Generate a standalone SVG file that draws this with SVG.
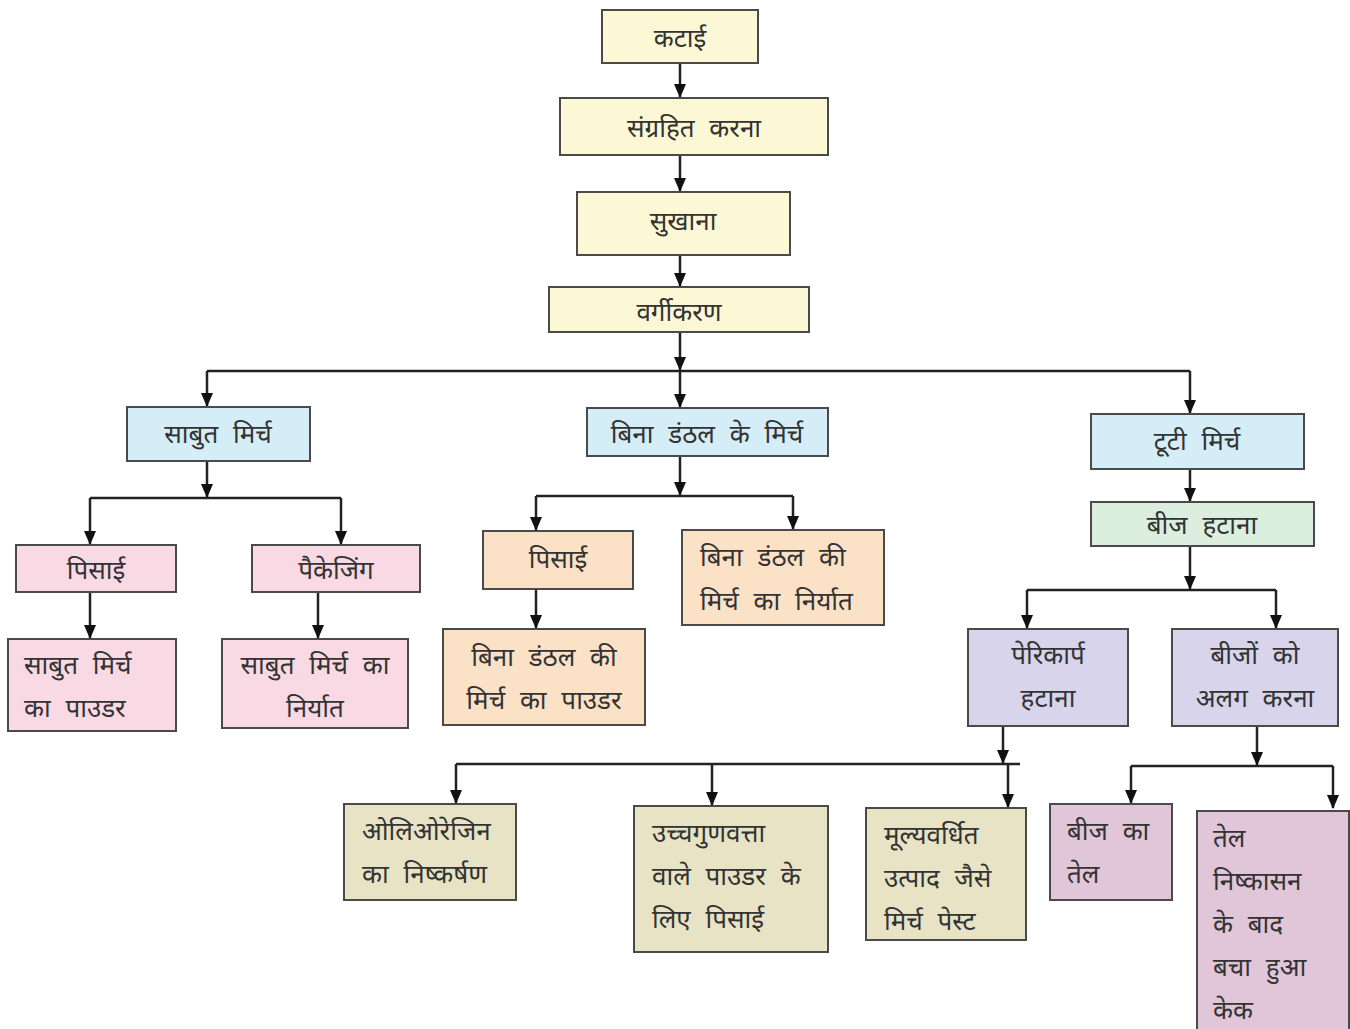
<svg xmlns="http://www.w3.org/2000/svg" width="1350" height="1029" viewBox="0 0 1350 1029">
<style>
.b{stroke:#4a4a4a;stroke-width:2}
.y{fill:#fcf8d6}.bl{fill:#d5edf7}.pk{fill:#f9d9e3}.pe{fill:#fbe1c6}.g{fill:#dcefdf}.lv{fill:#d8d4eb}.tn{fill:#e8e3c5}.mv{fill:#e1c5d9}
text{font-family:"Noto Sans","Lato","DejaVu Sans",sans-serif;font-size:26px;fill:#333;word-spacing:8px}
.c{text-anchor:middle}
.ln{fill:none;stroke:#222;stroke-width:2.5}
</style>
<defs>
<marker id="d" markerWidth="14" markerHeight="14" refX="13" refY="7" orient="auto" markerUnits="userSpaceOnUse" viewBox="0 0 14 14">
<path d="M0,1 L14,7 L0,13 Z" fill="#111"/>
</marker>
</defs>
<rect width="1350" height="1029" fill="#fff"/>
<g id="connectors" class="ln">
<path d="M680,63 V97" marker-end="url(#d)"/>
<path d="M680,155 V191" marker-end="url(#d)"/>
<path d="M680,255 V286" marker-end="url(#d)"/>
<path d="M680,332 V370" marker-end="url(#d)"/>
<path d="M207,371 H1190"/>
<path d="M207,371 V406" marker-end="url(#d)"/>
<path d="M680,371 V407" marker-end="url(#d)"/>
<path d="M1190,371 V413" marker-end="url(#d)"/>
<path d="M207,461 V497" marker-end="url(#d)"/>
<path d="M90,498 H341"/>
<path d="M90,498 V544" marker-end="url(#d)"/>
<path d="M341,498 V544" marker-end="url(#d)"/>
<path d="M90,592 V638" marker-end="url(#d)"/>
<path d="M318,592 V638" marker-end="url(#d)"/>
<path d="M680,456 V495" marker-end="url(#d)"/>
<path d="M536,496 H793"/>
<path d="M536,496 V530" marker-end="url(#d)"/>
<path d="M793,496 V529" marker-end="url(#d)"/>
<path d="M536,589 V628" marker-end="url(#d)"/>
<path d="M1190,469 V501" marker-end="url(#d)"/>
<path d="M1190,546 V589" marker-end="url(#d)"/>
<path d="M1027,590 H1276"/>
<path d="M1027,590 V628" marker-end="url(#d)"/>
<path d="M1276,590 V628" marker-end="url(#d)"/>
<path d="M1003,726 V763" marker-end="url(#d)"/>
<path d="M456,764 H1020"/>
<path d="M456,764 V803" marker-end="url(#d)"/>
<path d="M712,764 V805" marker-end="url(#d)"/>
<path d="M1008,764 V807" marker-end="url(#d)"/>
<path d="M1257,726 V765" marker-end="url(#d)"/>
<path d="M1131,766 H1333"/>
<path d="M1131,766 V803" marker-end="url(#d)"/>
<path d="M1333,766 V808" marker-end="url(#d)"/>
</g>
<g id="n1"><rect class="b y" x="602" y="10" width="156" height="53"/><text class="c" x="680" y="47">कटाई</text></g>
<g id="n2"><rect class="b y" x="560" y="98" width="268" height="57"/><text class="c" x="694" y="137">संग्रहित करना</text></g>
<g id="n3"><rect class="b y" x="577" y="192" width="213" height="63"/><text class="c" x="683" y="230">सुखाना</text></g>
<g id="n4"><rect class="b y" x="549" y="287" width="260" height="45"/><text class="c" x="679" y="321">वर्गीकरण</text></g>
<g id="n5"><rect class="b bl" x="127" y="407" width="183" height="54"/><text class="c" x="218" y="443">साबुत मिर्च</text></g>
<g id="n6"><rect class="b bl" x="587" y="408" width="241" height="48"/><text class="c" x="707" y="443">बिना डंठल के मिर्च</text></g>
<g id="n7"><rect class="b bl" x="1091" y="414" width="213" height="55"/><text class="c" x="1197" y="450">टूटी मिर्च</text></g>
<g id="n8"><rect class="b pk" x="16" y="545" width="160" height="47"/><text class="c" x="96" y="579">पिसाई</text></g>
<g id="n9"><rect class="b pk" x="252" y="545" width="168" height="47"/><text class="c" x="336" y="579">पैकेजिंग</text></g>
<g id="n10"><rect class="b pk" x="8" y="639" width="168" height="92"/><text x="24" y="674">साबुत मिर्च</text><text x="24" y="717">का पाउडर</text></g>
<g id="n11"><rect class="b pk" x="222" y="639" width="186" height="89"/><text class="c" x="315" y="674">साबुत मिर्च का</text><text class="c" x="315" y="717">निर्यात</text></g>
<g id="n12"><rect class="b pe" x="483" y="531" width="150" height="58"/><text class="c" x="558" y="568">पिसाई</text></g>
<g id="n13"><rect class="b pe" x="682" y="530" width="202" height="95"/><text x="700" y="566">बिना डंठल की</text><text x="700" y="610">मिर्च का निर्यात</text></g>
<g id="n14"><rect class="b pe" x="443" y="629" width="202" height="96"/><text class="c" x="544" y="666">बिना डंठल की</text><text class="c" x="544" y="709">मिर्च का पाउडर</text></g>
<g id="n15"><rect class="b g" x="1091" y="502" width="223" height="44"/><text class="c" x="1202" y="534">बीज हटाना</text></g>
<g id="n16"><rect class="b lv" x="968" y="629" width="160" height="97"/><text class="c" x="1048" y="664">पेरिकार्प</text><text class="c" x="1048" y="707">हटाना</text></g>
<g id="n17"><rect class="b lv" x="1172" y="629" width="166" height="97"/><text class="c" x="1255" y="664">बीजों को</text><text class="c" x="1255" y="707">अलग करना</text></g>
<g id="n18"><rect class="b tn" x="344" y="804" width="172" height="96"/><text x="362" y="840">ओलिओरेजिन</text><text x="362" y="883">का निष्कर्षण</text></g>
<g id="n19"><rect class="b tn" x="634" y="806" width="194" height="146"/><text x="652" y="842">उच्चगुणवत्ता</text><text x="652" y="885">वाले पाउडर के</text><text x="652" y="928">लिए पिसाई</text></g>
<g id="n20"><rect class="b tn" x="866" y="808" width="160" height="132"/><text x="884" y="844">मूल्यवर्धित</text><text x="884" y="887">उत्पाद जैसे</text><text x="884" y="930">मिर्च पेस्ट</text></g>
<g id="n21"><rect class="b mv" x="1050" y="804" width="122" height="96"/><text x="1067" y="840">बीज का</text><text x="1067" y="883">तेल</text></g>
<g id="n22"><rect class="b mv" x="1197" y="811" width="152" height="230"/><text x="1213" y="847">तेल</text><text x="1213" y="890">निष्कासन</text><text x="1213" y="933">के बाद</text><text x="1213" y="976">बचा हुआ</text><text x="1213" y="1019">केक</text></g>
</svg>
